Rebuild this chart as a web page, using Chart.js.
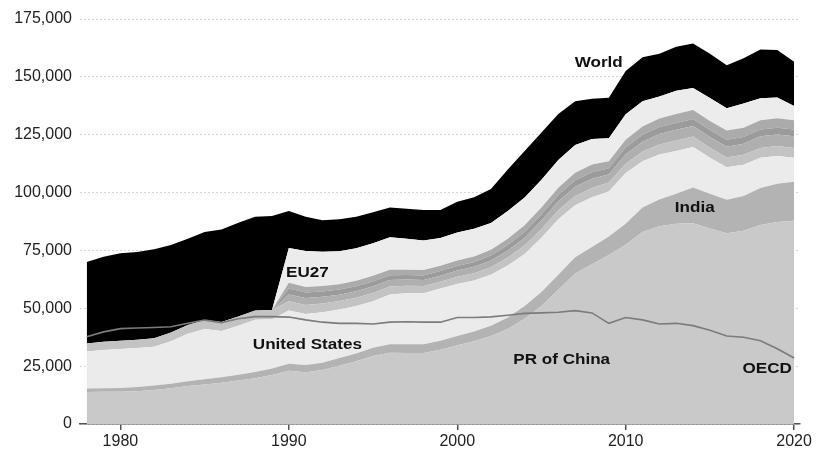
<!DOCTYPE html>
<html>
<head>
<meta charset="utf-8">
<script src="https://cdn.jsdelivr.net/npm/chart.js@4.4.0/dist/chart.umd.min.js"></script>
<style>
  html, body { margin: 0; padding: 0; background: #fff; }
  #wrap { width: 816px; height: 459px; }
</style>
</head>
<body>
<div id="wrap"><canvas id="coal" width="816" height="459"></canvas></div>
<script>
// values in thousands (axis shows full numbers)
const years = [1978,1979,1980,1981,1982,1983,1984,1985,1986,1987,1988,1989,1990,1991,1992,1993,1994,1995,1996,1997,1998,1999,2000,2001,2002,2003,2004,2005,2006,2007,2008,2009,2010,2011,2012,2013,2014,2015,2016,2017,2018,2019,2020];

const china = [13.8,13.9,13.9,14.2,14.7,15.4,16.4,17.1,17.8,18.8,19.8,21.2,23.0,22.4,23.3,25.2,27.1,29.4,30.8,30.7,30.7,32.1,34.0,35.8,38.0,41.0,45.5,51.0,58.0,65.0,69.0,73.0,77.5,83.0,85.5,86.5,86.7,84.5,82.4,83.5,86.0,87.3,87.8];
const india = [1.5,1.6,1.7,1.8,1.9,2.0,2.1,2.2,2.4,2.5,2.7,2.8,3.0,3.1,3.2,3.3,3.4,3.6,3.7,3.8,3.8,3.9,4.0,4.2,4.5,5.0,5.5,6.0,6.5,7.0,7.5,8.0,9.0,10.5,11.5,13.0,15.5,15.0,14.5,15.0,16.0,16.5,16.9];
const unitedStates = [16.0,16.5,16.8,16.8,16.8,18.4,20.5,21.8,20.0,21.2,22.5,21.3,23.0,22.0,21.8,21.0,20.5,20.0,21.5,22.0,22.0,22.5,22.5,22.0,22.0,22.5,22.5,23.5,24.0,22.5,21.5,19.5,22.0,20.0,19.5,18.5,17.5,15.5,14.0,13.5,13.0,12.0,10.3];
const other1 = [3.5,3.5,3.6,3.6,3.7,3.7,3.8,3.8,3.9,3.9,4.0,4.0,4.0,3.9,3.8,3.6,3.6,3.6,3.4,3.2,3.1,3.0,3.1,3.1,3.2,3.4,3.6,3.8,3.9,4.0,4.0,3.8,4.0,4.2,4.3,4.5,4.5,4.4,4.3,4.3,4.3,4.3,4.3];
const other2 = [0,0,0,0,0,0,0,0,0,0,0,0,3.0,3.0,2.9,2.8,2.8,2.9,2.8,2.7,2.6,2.6,2.7,2.8,2.9,3.1,3.4,3.6,3.8,4.0,4.0,3.6,4.1,4.3,4.5,4.6,4.6,4.6,4.6,4.8,5.0,5.0,5.0];
const other3 = [0,0,0,0,0,0,0,0,0,0,0,0,2.5,2.4,2.3,2.2,2.1,2.1,2.1,2.0,2.0,2.0,2.0,2.1,2.2,2.3,2.5,2.6,2.7,2.8,2.8,2.6,2.9,3.0,3.0,3.0,3.0,3.0,3.0,2.9,2.9,2.9,2.9];
const other4 = [0,0,0,0,0,0,0,0,0,0,0,0,2.5,2.4,2.3,2.3,2.4,2.5,2.4,2.3,2.3,2.3,2.4,2.4,2.5,2.7,2.9,3.0,3.2,3.3,3.3,3.0,3.3,3.5,3.7,3.9,3.9,3.9,4.0,4.0,4.1,4.1,4.1];
const eu27 = [0,0,0,0,0,0,0,0,0,0,0,0,15.0,15.5,14.8,14.2,14.0,14.0,14.0,13.3,12.8,12.0,12.0,12.0,11.5,12.0,12.0,12.0,12.0,12.0,11.0,10.0,11.0,11.0,9.5,10.0,9.5,10.0,9.6,10.5,9.5,9.0,6.1];
const world = [70.0,72.3,73.8,74.3,75.5,77.3,80.0,83.0,84.0,87.0,89.6,89.9,92.0,89.5,88.0,88.5,89.5,91.5,93.5,93.0,92.5,92.5,96.0,98.0,101.5,110.0,118.0,126.0,134.0,139.5,140.5,141.0,152.5,158.5,160.0,163.0,164.4,160.0,155.0,158.0,161.8,161.6,156.5];
const oecd = [37.7,39.8,41.2,41.5,41.7,42.0,43.5,44.9,43.8,45.5,46.4,46.4,46.2,45.0,44.0,43.5,43.5,43.2,44.0,44.2,44.0,44.0,46.0,46.0,46.3,47.0,47.8,48.0,48.3,49.0,48.0,43.5,46.0,45.0,43.2,43.5,42.5,40.5,38.0,37.5,36.0,32.5,28.5];

const xTicks = [1980, 1990, 2000, 2010, 2020];
const yTicks = [0, 25, 50, 75, 100, 125, 150, 175];

// text labels placed in data coordinates
const labels = [
    { text: 'World', year: 2008.4, value: 156 },
    { text: 'EU27', year: 1991.1, value: 65.4 },
    { text: 'United States', year: 1991.1, value: 34.1 },
    { text: 'PR of China', year: 2006.2, value: 27.6 },
    { text: 'India', year: 2014.1, value: 93.1 },
    { text: 'OECD', year: 2018.4, value: 23.8 }
];

// rest of world = world total minus the listed parts
const parts = [china, india, unitedStates, other1, other2, other3, other4, eu27];
const restOfWorld = world.map((w, i) => w - parts.reduce((s, p) => s + p[i], 0));

const toPoints = arr => arr.map((v, i) => ({ x: years[i], y: v }));

function area(label, arr, color, fill) {
    return {
        label: label,
        data: toPoints(arr),
        backgroundColor: color,
        borderColor: color,
        borderWidth: 0,
        pointRadius: 0,
        tension: 0,
        fill: fill,
        stack: 'main'
    };
}

const datasets = [
    area('PR of China', china, '#c9c9c9', 'origin'),
    area('India', india, '#b3b3b3', '-1'),
    area('United States', unitedStates, '#ebebeb', '-1'),
    area('Other 1', other1, '#c3c3c3', '-1'),
    area('Other 2', other2, '#afafaf', '-1'),
    area('Other 3', other3, '#9b9b9b', '-1'),
    area('Other 4', other4, '#ababab', '-1'),
    area('EU27', eu27, '#ececec', '-1'),
    area('World', restOfWorld, '#000000', '-1'),
    {
        label: 'OECD',
        data: toPoints(oecd),
        borderColor: '#7b7b7b',
        borderWidth: 1.6,
        pointRadius: 0,
        tension: 0,
        fill: false,
        stack: 'oecd',
        order: -1
    }
];

const textLabels = {
    id: 'textLabels',
    afterDatasetsDraw(chart) {
        const ctx = chart.ctx;
        const xs = chart.scales.x, ys = chart.scales.y;
        ctx.save();
        ctx.font = 'bold 14px "Liberation Sans", Arial, sans-serif';
        ctx.fillStyle = '#111';
        ctx.textAlign = 'center';
        ctx.textBaseline = 'middle';
        labels.forEach(l => {
            ctx.save();
            ctx.translate(xs.getPixelForValue(l.year), ys.getPixelForValue(l.value));
            ctx.scale(1.22, 1);
            ctx.fillText(l.text, 0, 0);
            ctx.restore();
        });
        ctx.restore();
    }
};

new Chart(document.getElementById('coal'), {
    type: 'line',
    data: { datasets: datasets },
    options: {
        responsive: false,
        animation: false,
        layout: { padding: { top: 19, right: 16, left: 0, bottom: 0 } },
        plugins: {
            legend: { display: false },
            tooltip: { enabled: false }
        },
        scales: {
            x: {
                type: 'linear',
                min: 1977.6,
                max: 2020.35,
                afterBuildTicks: scale => { scale.ticks = xTicks.map(v => ({ value: v })); },
                afterFit: scale => { scale.height = 35; },
                border: { display: true, color: '#555', width: 1.5 },
                grid: { drawOnChartArea: false, drawTicks: true, tickLength: 6, color: '#555', lineWidth: 1.5 },
                ticks: {
                    padding: 2,
                    color: '#222',
                    font: { family: '"Liberation Sans", Arial, sans-serif', size: 16 },
                    callback: v => String(v)
                }
            },
            y: {
                stacked: true,
                min: 0,
                max: 175,
                afterBuildTicks: scale => { scale.ticks = yTicks.map(v => ({ value: v })); },
                afterFit: scale => { scale.width = 80; },
                border: { display: false, dash: [2, 2] },
                grid: { color: '#d6d6d6', lineWidth: 1, drawTicks: false },
                ticks: {
                    padding: 8,
                    color: '#222',
                    font: { family: '"Liberation Sans", Arial, sans-serif', size: 16 },
                    callback: v => (v * 1000).toLocaleString('en-US')
                }
            }
        }
    },
    plugins: [textLabels]
});
</script>
</body>
</html>
